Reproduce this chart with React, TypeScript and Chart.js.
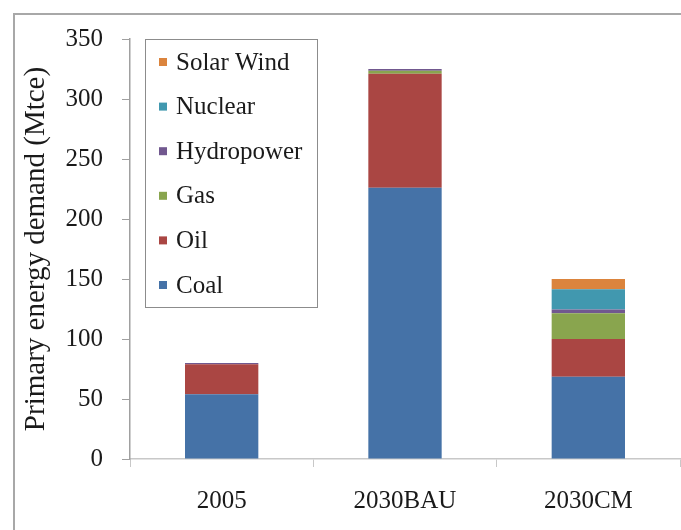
import React, { useEffect, useRef } from "react";
import { Chart, registerables } from "chart.js";

Chart.register(...registerables);

const categories = ["2005", "2030BAU", "2030CM"];
const seriesNames = ["Coal", "Oil", "Gas", "Hydropower", "Nuclear", "Solar Wind"];
const coal = [54, 226, 68.5];
const oil = [25, 95, 31.5];
const gas = [0, 2.5, 21.5];
const hydropower = [1, 1.5, 3];
const nuclear = [0, 0, 17];
const solarWind = [0, 0, 8.5];
const seriesColors = ["#4572A7", "#AA4643", "#89A54E", "#71588F", "#4198AF", "#DB843D"];
const yTicks = [0, 50, 100, 150, 200, 250, 300, 350];

const SERIF = "'Liberation Serif', 'Times New Roman', serif";

const framePlugin = {
  id: "frame",
  beforeDraw(chart: any) {
    const ctx = chart.ctx;
    ctx.save();
    ctx.fillStyle = "#ffffff";
    ctx.fillRect(0, 0, chart.width, chart.height);
    ctx.strokeStyle = "#a8a8a8";
    ctx.lineWidth = 2;
    ctx.beginPath();
    ctx.moveTo(14, chart.height);
    ctx.lineTo(14, 14);
    ctx.lineTo(chart.width, 14);
    ctx.stroke();
    ctx.restore();
  },
};

const legendBoxPlugin = {
  id: "legendBox",
  afterDraw(chart: any) {
    const ctx = chart.ctx;
    const area = chart.chartArea;
    const x0 = area.left + 15;
    const y0 = area.top;
    const w = 172;
    const h = 268;
    ctx.save();
    ctx.fillStyle = "#ffffff";
    ctx.fillRect(x0, y0, w, h);
    ctx.strokeStyle = "#8c8c8c";
    ctx.lineWidth = 1;
    ctx.strokeRect(x0 + 0.5, y0 + 0.5, w, h);
    const ds = chart.data.datasets;
    ctx.font = "25px " + SERIF;
    ctx.textBaseline = "middle";
    ctx.textAlign = "left";
    const n = ds.length;
    for (let i = 0; i < n; i++) {
      const d = ds[n - 1 - i];
      const cy = y0 + 23 + i * 44.6;
      ctx.fillStyle = d.backgroundColor;
      ctx.fillRect(x0 + 14, cy - 4, 8, 8);
      ctx.fillStyle = "#1a1a1a";
      ctx.fillText(d.label, x0 + 31, cy + 1);
    }
    ctx.restore();
  },
};

export default function App() {
  const ref = useRef<HTMLCanvasElement | null>(null);
  useEffect(() => {
    if (!ref.current) return;
    const values = [coal, oil, gas, hydropower, nuclear, solarWind];
    const chart = new Chart(ref.current, {
      type: "bar",
      data: {
        labels: categories,
        datasets: seriesNames.map((name, i) => ({
          label: name,
          data: values[i],
          backgroundColor: seriesColors[i],
          borderWidth: 0,
          barPercentage: 0.4,
          categoryPercentage: 1,
        })),
      },
      options: {
        responsive: false,
        animation: false,
        layout: { padding: { top: 39, left: 0, right: 1, bottom: 0 } },
        plugins: {
          legend: { display: false },
          tooltip: { enabled: false },
        },
        scales: {
          x: {
            stacked: true,
            offset: true,
            afterFit(scale: any) {
              scale.height = 71;
            },
            grid: {
              offset: true,
              drawOnChartArea: false,
              drawTicks: true,
              tickLength: 8,
              color: "#c8c8c8",
            },
            border: { color: "#c8c8c8", width: 1.5 },
            ticks: {
              color: "#1a1a1a",
              padding: 19,
              font: { family: SERIF, size: 25 },
            },
          },
          y: {
            stacked: true,
            min: 0,
            max: 350,
            afterFit(scale: any) {
              scale.width = 130;
            },
            afterBuildTicks(scale: any) {
              scale.ticks = yTicks.map((v) => ({ value: v }));
            },
            grid: {
              drawOnChartArea: false,
              drawTicks: true,
              tickLength: 8,
              color: "#a0a0a0",
            },
            border: { color: "#a0a0a0", width: 1.5 },
            ticks: {
              color: "#1a1a1a",
              padding: 19,
              font: { family: SERIF, size: 25 },
            },
            title: {
              display: true,
              text: "Primary energy demand (Mtce)",
              color: "#1a1a1a",
              font: { family: SERIF, size: 29 },
              padding: { top: 19, bottom: 10 },
            },
          },
        },
      },
      plugins: [framePlugin, legendBoxPlugin],
    });
    return () => chart.destroy();
  }, []);
  return (
    <div style={{ position: "fixed", left: 0, top: 0, width: 681, height: 530 }}>
      <canvas ref={ref} width={681} height={530} style={{ width: 681, height: 530 }} />
    </div>
  );
}
